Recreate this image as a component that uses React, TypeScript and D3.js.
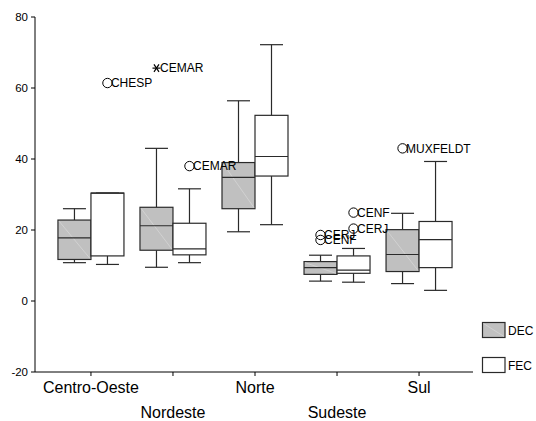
import React from "react";
import * as d3 from "d3";

const categories = ["Centro-Oeste", "Nordeste", "Norte", "Sudeste", "Sul"];
const series = ["DEC", "FEC"];
// [min whisker, q1, median, q3, max whisker]
const decStats = [
  [10.8, 11.7, 17.8, 22.8, 26.0],
  [9.5, 14.3, 21.2, 26.4, 43.0],
  [19.5, 26.0, 34.8, 39.0, 56.4],
  [5.6, 7.5, 9.4, 11.1, 12.9],
  [4.9, 8.3, 13.1, 20.1, 24.7],
];
const fecStats = [
  [10.3, 12.7, 30.4, 30.4, 30.4],
  [10.8, 13.0, 14.7, 21.9, 31.6],
  [21.5, 35.2, 40.7, 52.3, 72.2],
  [5.3, 7.8, 8.7, 12.7, 14.8],
  [3.0, 9.4, 17.3, 22.4, 39.3],
];
const outlierCategory = ["Centro-Oeste", "Nordeste", "Nordeste", "Sudeste", "Sudeste", "Sudeste", "Sudeste", "Sul"];
const outlierSeries = ["FEC", "DEC", "FEC", "DEC", "DEC", "FEC", "FEC", "DEC"];
const outlierValue = [61.4, 65.6, 38.0, 18.6, 17.2, 24.9, 20.4, 43.0];
const outlierLabel = ["CHESP", "CEMAR", "CEMAR", "CERJ", "CENF", "CENF", "CERJ", "MUXFELDT"];
const outlierExtreme = [false, true, false, false, false, false, false, false];
const yTicks = [-20, 0, 20, 40, 60, 80];

const FONT = "'Liberation Sans', Arial, sans-serif";
const GRAY = "#c0c0c0";
const STROKE = "#2a2a2a";

export default function App() {
  const y = d3.scaleLinear().domain([-20, 80]).range([372, 17]);
  const x = d3.scalePoint<string>().domain(categories).range([36, 474]).padding(0.67);
  const boxW = 33;
  const capW = 23;
  const axisX = 35;
  const axisY = 372;

  const boxCenter = (cat: string, s: string) =>
    (x(cat) as number) + (s === "DEC" ? -boxW / 2 : boxW / 2);

  const renderBox = (stats: number[], cat: string, s: string, key: string) => {
    const cx = boxCenter(cat, s);
    const [mn, q1, md, q3, mx] = stats;
    const x0 = cx - boxW / 2;
    const fill = s === "DEC" ? GRAY : "#ffffff";
    return (
      <g key={key}>
        <line x1={cx} x2={cx} y1={y(q3)} y2={y(mx)} stroke={STROKE} strokeWidth={1.2} />
        <line x1={cx} x2={cx} y1={y(q1)} y2={y(mn)} stroke={STROKE} strokeWidth={1.2} />
        <line x1={cx - capW / 2} x2={cx + capW / 2} y1={y(mx)} y2={y(mx)} stroke={STROKE} strokeWidth={1.2} />
        <line x1={cx - capW / 2} x2={cx + capW / 2} y1={y(mn)} y2={y(mn)} stroke={STROKE} strokeWidth={1.2} />
        <rect x={x0} y={y(q3)} width={boxW} height={y(q1) - y(q3)} fill={fill} stroke={STROKE} strokeWidth={1.2} />
        {s === "DEC" && (
          <line x1={x0 + 1} y1={y(q3) + 1} x2={x0 + boxW - 1} y2={y(q1) - 1} stroke="#d8d8d8" strokeWidth={0.7} />
        )}
        <line x1={x0} x2={x0 + boxW} y1={y(md)} y2={y(md)} stroke={STROKE} strokeWidth={1.2} />
      </g>
    );
  };

  return (
    <svg width={536} height={421} style={{ position: "absolute", left: 0, top: 0, background: "#fff" }}>
      <rect width={536} height={421} fill="#fff" />
      {/* y axis */}
      <line x1={axisX} x2={axisX} y1={y(80)} y2={axisY} stroke="#000" strokeWidth={1} />
      {yTicks.map((t) => (
        <g key={t}>
          <line x1={axisX - 4} x2={axisX} y1={y(t)} y2={y(t)} stroke="#000" />
          <text x={28} y={y(t) + 4} textAnchor="end" fontFamily={FONT} fontSize={11.5} fill="#000">
            {t}
          </text>
        </g>
      ))}
      {/* x axis */}
      <line x1={axisX} x2={473} y1={axisY} y2={axisY} stroke="#000" />
      {categories.map((c, i) => (
        <g key={c}>
          <line x1={x(c)} x2={x(c)} y1={axisY} y2={axisY + 4} stroke="#000" />
          <text x={x(c)} y={i % 2 === 0 ? 393 : 418} textAnchor="middle" fontFamily={FONT} fontSize={16} fill="#000">
            {c}
          </text>
        </g>
      ))}
      {/* boxes */}
      {categories.map((c, i) => renderBox(decStats[i], c, "DEC", "d" + i))}
      {categories.map((c, i) => renderBox(fecStats[i], c, "FEC", "f" + i))}
      {/* outliers */}
      {outlierValue.map((v, i) => {
        const cx = boxCenter(outlierCategory[i], outlierSeries[i]);
        const cy = y(v);
        const r = 4.7;
        return (
          <g key={"o" + i}>
            {outlierExtreme[i] ? (
              <g stroke="#000" strokeWidth={1.2}>
                <line x1={cx - 4} x2={cx + 4} y1={cy} y2={cy} />
                <line x1={cx - 2.5} x2={cx + 2.5} y1={cy - 3.8} y2={cy + 3.8} />
                <line x1={cx - 2.5} x2={cx + 2.5} y1={cy + 3.8} y2={cy - 3.8} />
              </g>
            ) : (
              <circle cx={cx} cy={cy} r={r} fill="none" stroke="#000" strokeWidth={1} />
            )}
            <text x={cx + 3.5} y={cy + 4.3} fontFamily={FONT} fontSize={12} fill="#000">
              {outlierLabel[i]}
            </text>
          </g>
        );
      })}
      {/* legend */}
      {series.map((s, i) => (
        <g key={s}>
          <rect x={482.5} y={322.5 + i * 35} width={22.5} height={15} fill={s === "DEC" ? GRAY : "#fff"} stroke={STROKE} strokeWidth={1.2} />
          {s === "DEC" && (
            <line x1={483.5} y1={323.5} x2={504} y2={336.5} stroke="#d8d8d8" strokeWidth={0.7} />
          )}
          <text x={508} y={335 + i * 35} fontFamily={FONT} fontSize={12} fill="#000">
            {s}
          </text>
        </g>
      ))}
    </svg>
  );
}
